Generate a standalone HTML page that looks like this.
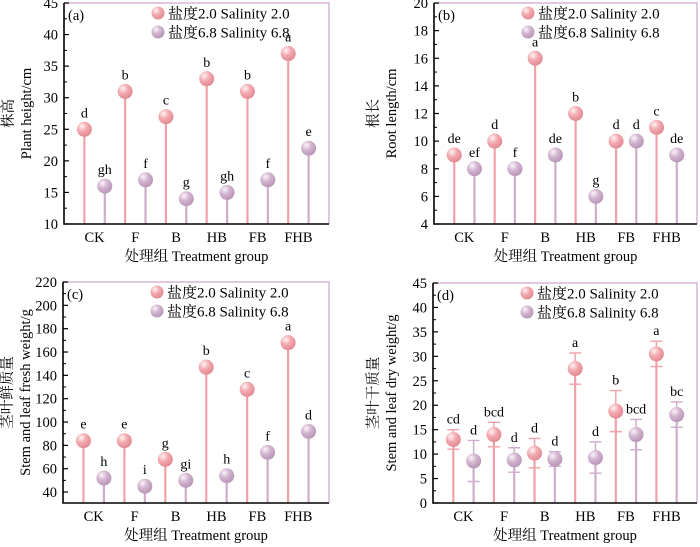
<!DOCTYPE html>
<html><head><meta charset="utf-8"><style>
html,body{margin:0;padding:0;background:#fff;}
svg{display:block;font-family:"Liberation Serif","Noto Serif CJK SC","Noto Sans CJK SC",serif;}
</style></head><body>
<svg id="fig" width="700" height="547" viewBox="0 0 700 547">
<defs>
<radialGradient id="gp" cx="0.35" cy="0.3" r="0.75"><stop offset="0" stop-color="#fff4f4"/><stop offset="0.45" stop-color="#f2aab0"/><stop offset="1" stop-color="#e2868f"/></radialGradient>
<radialGradient id="gv" cx="0.35" cy="0.3" r="0.75"><stop offset="0" stop-color="#fbf4fa"/><stop offset="0.45" stop-color="#d2b4d0"/><stop offset="1" stop-color="#b693b4"/></radialGradient>
</defs>
</svg>
<script>
const categories = ["CK","F","B","HB","FB","FHB"];
const heightLow = [25,31,27,33,31,37];
const heightHigh = [16,17,14,15,17,22];
const heightLetLow = ["d","b","c","b","b","a"];
const heightLetHigh = ["gh","f","g","gh","f","e"];
const rootLow = [9,10,16,12,10,11];
const rootHigh = [8,8,9,6,10,9];
const rootLetLow = ["de","d","a","b","d","c"];
const rootLetHigh = ["ef","f","de","g","d","de"];
const freshLow = [84,84,68,147,128,168];
const freshHigh = [52,45,50,54,74,92];
const freshLetLow = ["e","e","g","b","c","a"];
const freshLetHigh = ["h","i","gi","h","f","d"];
const dryLow = [13,14,10.2,27.5,18.8,30.5];
const dryHigh = [8.6,8.8,9,9.3,14,18.1];
const dryErrLow = [2,2.5,3,3.2,4.2,2.6];
const dryErrHigh = [4.2,2.5,1.5,3.2,3.1,2.6];
const dryLetLow = ["cd","bcd","d","a","b","a"];
const dryLetHigh = ["d","d","d","d","bcd","bc"];
const ticksA = [10,15,20,25,30,35,40,45];
const ticksB = [4,6,8,10,12,14,16,18,20];
const ticksC = [40,60,80,100,120,140,160,180,200,220];
const ticksD = [0,5,10,15,20,25,30,35,40,45];

const svg = document.getElementById('fig');
const NS = 'http://www.w3.org/2000/svg';
function mk(tag, attrs, parent, text){
  const e = document.createElementNS(NS, tag);
  for (const k in attrs) e.setAttribute(k, attrs[k]);
  if (text !== undefined) e.textContent = text;
  (parent || svg).appendChild(e);
  return e;
}

function panel(p){
  const g = mk('g', {});
  
  
  const L = p.x0, R = p.x1, T = p.y0, B = p.y1;
  const ys = v => B - (v - p.min) / (p.max - p.min) * (B - T);
  const xs = i => L + (i + 1) * (R - L) / 13;
  const fr = mk('path', {d:`M${L},${T} H${R} V${B}`, fill:'none', stroke:'#d7b5d5', 'stroke-width':1.5}, g);
  
  
  const step = p.ticks[1] - p.ticks[0];
  for (let i = 0; i < p.ticks.length; i++){
    const v = p.ticks[i], y = ys(v);
    mk('line', {x1:L, x2:L+5, y1:y, y2:y, stroke:'#000', 'stroke-width':1.2}, g);
    const t = mk('text', {x:L-6, y:y+5, 'text-anchor':'end', 'font-size':14.5}, g, String(v));
    
    
    const mv = v + step/2;
    if (i < p.ticks.length - 1 || mv <= p.max) mk('line', {x1:L, x2:L+3, y1:ys(mv), y2:ys(mv), stroke:'#000', 'stroke-width':1}, g);
  }
  if (p.ticks[0] - step/2 >= p.min) mk('line', {x1:L, x2:L+3, y1:ys(p.ticks[0]-step/2), y2:ys(p.ticks[0]-step/2), stroke:'#000', 'stroke-width':1}, g);
  const series = [[p.low, p.letLow, p.errLow, '#f0a1a8', 'url(#gp)', 0], [p.high, p.letHigh, p.errHigh, '#cfabcc', 'url(#gv)', 1]];
  for (const [vals, lets, errs, col, grad, off] of series){
    for (let i = 0; i < vals.length; i++){
      const x = xs(2*i + off), y = ys(vals[i]);
      const st = mk('line', {x1:x, x2:x, y1:B, y2:y, stroke:col, 'stroke-width':2.2}, g);
      
      
      let topY = y - 8;
      if (errs){
        const y1 = ys(vals[i] + errs[i]), y2 = ys(vals[i] - errs[i]);
        const eb = mk('path', {d:`M${x},${y2} V${y1} M${x-6},${y1} H${x+6} M${x-6},${y2} H${x+6}`, stroke:col, 'stroke-width':1.4, fill:'none'}, g);
        
        
        topY = Math.min(topY, y1 - 2);
      }
      const c = mk('circle', {cx:x, cy:y, r:7.5, fill:grad}, g);
      
      
      const lt = mk('text', {x:x, y:topY - 4, 'text-anchor':'middle', 'font-size':14}, g, lets[i]);
      
      
    }
  }
  const ax = mk('path', {d:`M${L},${T} V${B} H${R}`, fill:'none', stroke:'#000', 'stroke-width':1.6}, g);
  
  
  for (let i = 0; i < categories.length; i++){
    const t = mk('text', {x:(xs(2*i)+xs(2*i+1))/2, y:B+18, 'text-anchor':'middle', 'font-size':14.5}, g, categories[i]);
    
    
  }
  const xt = mk('text', {x:(L+R)/2, y:B+37, 'text-anchor':'middle', 'font-size':14.5}, g, '处理组 Treatment group');
  
  
  const cy = (T+B)/2;
  const yt1 = mk('text', {x:0, y:0, 'text-anchor':'middle', 'font-size':14.5, transform:`translate(${p.tx1},${cy}) rotate(-90)`}, g, p.t1);
  
  
  const yt2 = mk('text', {x:0, y:0, 'text-anchor':'middle', 'font-size':14.5, transform:`translate(${p.tx2},${cy}) rotate(-90)`}, g, p.t2);
  
  
  const pl = mk('text', {x:L+4, y:T+17, 'font-size':14.5}, g, p.label);
  
  
  const lg = mk('g', {}, g);
  
  
  const lx = L + 94, ly = T + 10;
  mk('circle', {cx:lx, cy:ly, r:6.5, fill:'url(#gp)'}, lg);
  const l1 = mk('text', {x:lx+10, y:ly+5.5, 'font-size':15}, lg, '盐度2.0 Salinity 2.0');
  
  
  mk('circle', {cx:lx, cy:ly+19, r:6.5, fill:'url(#gv)'}, lg);
  const l2 = mk('text', {x:lx+10, y:ly+24.5, 'font-size':15}, lg, '盐度6.8 Salinity 6.8');
  
  
}

panel({name:'panel-a-plant-height', x0:64, x1:329, y0:3, y1:224, min:10, max:45, ticks:ticksA,
  low:heightLow, high:heightHigh, letLow:heightLetLow, letHigh:heightLetHigh,
  t1:'株高', t2:'Plant height/cm', tx1:13, tx2:31, label:'(a)'});
panel({name:'panel-b-root-length', x0:434, x1:697, y0:3, y1:224, min:4, max:20, ticks:ticksB,
  low:rootLow, high:rootHigh, letLow:rootLetLow, letHigh:rootLetHigh,
  t1:'根长', t2:'Root length/cm', tx1:378, tx2:396, label:'(b)'});
panel({name:'panel-c-fresh-weight', x0:63, x1:329, y0:282, y1:503, min:30.6, max:220, ticks:ticksC,
  low:freshLow, high:freshHigh, letLow:freshLetLow, letHigh:freshLetHigh,
  t1:'茎叶鲜质量', t2:'Stem and leaf  fresh weight/g', tx1:12, tx2:30, label:'(c)'});
panel({name:'panel-d-dry-weight', x0:433, x1:697, y0:283, y1:503, min:0, max:45, ticks:ticksD,
  low:dryLow, high:dryHigh, letLow:dryLetLow, letHigh:dryLetHigh, errLow:dryErrLow, errHigh:dryErrHigh,
  t1:'茎叶干质量', t2:'Stem and leaf dry weight/g', tx1:378, tx2:396, label:'(d)'});
</script>
</body></html>
